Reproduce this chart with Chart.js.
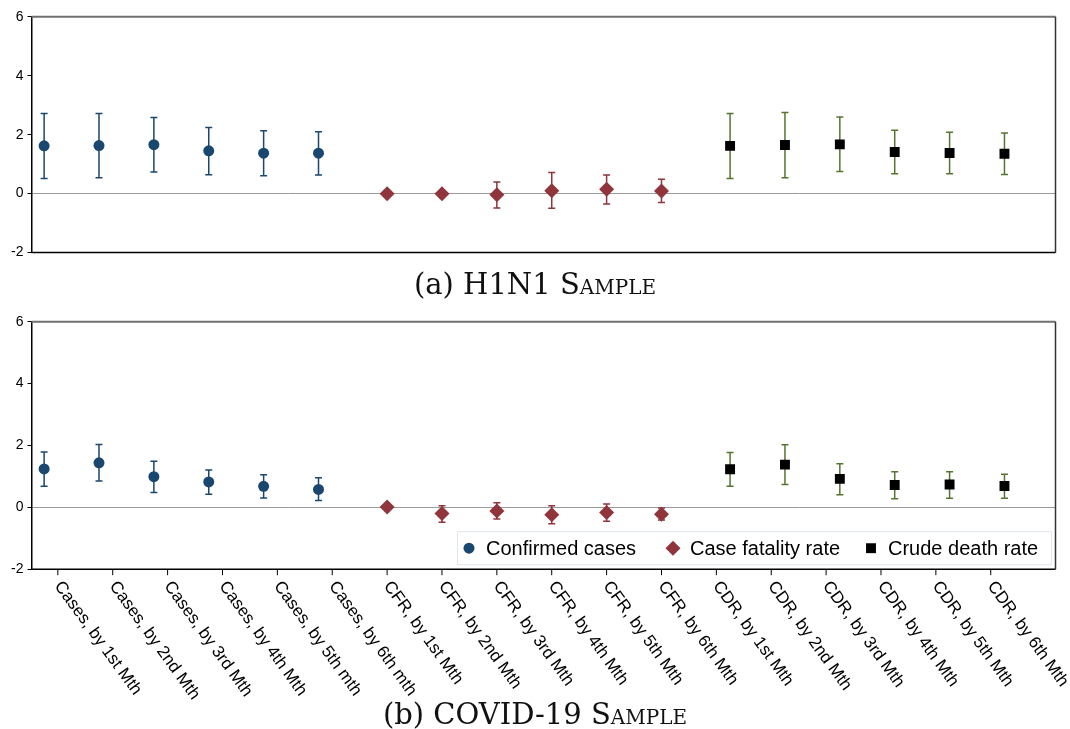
<!DOCTYPE html>
<html>
<head>
<meta charset="utf-8">
<script src="https://cdn.jsdelivr.net/npm/chart.js@4.4.0/dist/chart.umd.min.js"></script>
<style>
body { margin: 0; background: #fff; }
#wrap { position: relative; width: 1070px; height: 729px; background: #fff; overflow: hidden; }
#c1 { position: absolute; left: 0; top: 0; }
#c2 { position: absolute; left: 0; top: 300px; }
.cap { position: absolute; left: 0; width: 1070px; text-align: center; font-family: "DejaVu Serif", serif; font-size: 29px; line-height: 1; color: #111; }
.sc { font-variant: small-caps; }
</style>
</head>
<body>
<div id="wrap">
  <canvas id="c1" width="1070" height="265"></canvas>
  <canvas id="c2" width="1070" height="400"></canvas>
  <div class="cap" style="top:270px">(a) H1N1 <span class="sc">Sample</span></div>
  <div class="cap" style="top:700px">(b) COVID-19 <span class="sc">Sample</span></div>
</div>
<script>
// categories along the x axis (shared by both panels)
var categories = [
  'Cases, by 1st Mth', 'Cases, by 2nd Mth', 'Cases, by 3rd Mth', 'Cases, by 4th Mth', 'Cases, by 5th mth', 'Cases, by 6th mth',
  'CFR, by 1st Mth', 'CFR, by 2nd Mth', 'CFR, by 3rd Mth', 'CFR, by 4th Mth', 'CFR, by 5th Mth', 'CFR, by 6th Mth',
  'CDR, by 1st Mth', 'CDR, by 2nd Mth', 'CDR, by 3rd Mth', 'CDR, by 4th Mth', 'CDR, by 5th Mth', 'CDR, by 6th Mth'
];
var seriesNames = ['Confirmed cases', 'Case fatality rate', 'Crude death rate'];
var yTicks = [-2, 0, 2, 4, 6];

// (a) H1N1 sample: estimates with 95% CI
var h1Cases   = [1.62, 1.63, 1.66, 1.45, 1.37, 1.37];
var h1CasesLo = [0.51, 0.54, 0.73, 0.64, 0.61, 0.63];
var h1CasesHi = [2.72, 2.72, 2.58, 2.24, 2.13, 2.10];
var h1Cfr     = [0.00, 0.00, -0.04, 0.10, 0.15, 0.09];
var h1CfrLo   = [0.00, 0.00, -0.49, -0.50, -0.35, -0.30];
var h1CfrHi   = [0.00, 0.00, 0.39, 0.72, 0.63, 0.49];
var h1Cdr     = [1.62, 1.65, 1.67, 1.41, 1.38, 1.35];
var h1CdrLo   = [0.51, 0.54, 0.75, 0.67, 0.67, 0.65];
var h1CdrHi   = [2.72, 2.75, 2.60, 2.15, 2.08, 2.06];

// (b) COVID-19 sample
var cvCases   = [1.24, 1.44, 0.99, 0.82, 0.68, 0.58];
var cvCasesLo = [0.68, 0.85, 0.48, 0.42, 0.30, 0.22];
var cvCasesHi = [1.79, 2.03, 1.49, 1.21, 1.05, 0.96];
var cvCfr     = [0.01, -0.20, -0.12, -0.24, -0.17, -0.22];
var cvCfrLo   = [0.01, -0.48, -0.38, -0.53, -0.45, -0.41];
var cvCfrHi   = [0.01, 0.05, 0.15, 0.05, 0.11, -0.02];
var cvCdr     = [1.23, 1.38, 0.92, 0.72, 0.74, 0.69];
var cvCdrLo   = [0.68, 0.74, 0.41, 0.28, 0.29, 0.29];
var cvCdrHi   = [1.77, 2.02, 1.41, 1.15, 1.15, 1.07];

var groupGap = 0.25; // extra room between the three groups
var styles = [
  { pointStyle: 'circle',  pointRadius: 5.5, color: '#1a476f', barColor: '#1a476f' },
  { pointStyle: 'rectRot', pointRadius: 7.5, color: '#90353b', barColor: '#90353b' },
  { pointStyle: 'rect',    pointRadius: 7,   color: '#000000', barColor: '#55752f' }
];
var fontSans = '"Liberation Sans", Arial, sans-serif';

function tickPos(i) { return i + 1 + groupGap; }

function makeSet(g, vals, lo, hi) {
  var s = styles[g];
  return {
    label: seriesNames[g],
    data: vals.map(function (v, i) { return { x: g * 6 + i + 1 + g * groupGap, y: v }; }),
    lo: lo, hi: hi,
    barColor: s.barColor,
    pointStyle: s.pointStyle,
    pointRadius: s.pointRadius,
    pointHoverRadius: s.pointRadius,
    backgroundColor: s.color,
    borderWidth: 0
  };
}

var panelPlugin = {
  id: 'panel',
  beforeDatasetsDraw: function (chart) {
    var ctx = chart.ctx, x = chart.scales.x, y = chart.scales.y;
    chart.data.datasets.forEach(function (ds) {
      ctx.save();
      ctx.strokeStyle = ds.barColor;
      ctx.lineWidth = 1.5;
      ds.data.forEach(function (p, i) {
        var px = x.getPixelForValue(p.x);
        var y1 = y.getPixelForValue(ds.lo[i]), y2 = y.getPixelForValue(ds.hi[i]);
        if (Math.abs(y2 - y1) < 1) return;
        ctx.beginPath();
        ctx.moveTo(px, y1); ctx.lineTo(px, y2);
        ctx.moveTo(px - 3.5, y1); ctx.lineTo(px + 3.5, y1);
        ctx.moveTo(px - 3.5, y2); ctx.lineTo(px + 3.5, y2);
        ctx.stroke();
      });
      ctx.restore();
    });
  },
  afterDraw: function (chart, args, opts) {
    var ctx = chart.ctx, a = chart.chartArea, x = chart.scales.x;
    ctx.save();
    // frame
    ctx.lineWidth = 2; ctx.strokeStyle = '#707070';
    ctx.beginPath(); ctx.moveTo(a.left, a.top); ctx.lineTo(a.right, a.top); ctx.stroke();
    ctx.lineWidth = 1.5; ctx.strokeStyle = '#333';
    ctx.beginPath(); ctx.moveTo(a.right, a.top); ctx.lineTo(a.right, a.bottom); ctx.stroke();
    ctx.strokeStyle = '#000';
    ctx.beginPath(); ctx.moveTo(a.left, a.bottom); ctx.lineTo(a.right, a.bottom); ctx.stroke();

    if (opts.xLabels) {
      ctx.font = '17px ' + fontSans;
      ctx.fillStyle = '#000';
      ctx.lineWidth = 1;
      categories.forEach(function (c, i) {
        var tx = x.getPixelForValue(tickPos(i));
        ctx.beginPath(); ctx.moveTo(tx, a.bottom); ctx.lineTo(tx, a.bottom + 6); ctx.stroke();
        ctx.save();
        ctx.translate(tx, a.bottom + 14);
        ctx.rotate(54 * Math.PI / 180);
        ctx.textAlign = 'left';
        ctx.textBaseline = 'middle';
        ctx.fillText(c, 0, 0);
        ctx.restore();
      });
    }

    if (opts.legend) {
      var lx = 457, ly = a.bottom - 38, lw = 594, lh = 33;
      ctx.fillStyle = '#fff';
      ctx.fillRect(lx, ly, lw, lh);
      ctx.strokeStyle = '#dfe7ec'; ctx.lineWidth = 1;
      ctx.strokeRect(lx + 0.5, ly + 0.5, lw, lh);
      var cols = [469, 673, 871];
      var cy = ly + lh / 2 + 0.5;
      ctx.font = '20px ' + fontSans;
      ctx.textBaseline = 'middle';
      ctx.textAlign = 'left';
      chart.data.datasets.forEach(function (ds, i) {
        ctx.fillStyle = ds.backgroundColor;
        Chart.helpers.drawPoint(ctx, { pointStyle: ds.pointStyle, radius: ds.pointRadius, rotation: 0, borderWidth: 0 }, cols[i], cy);
        ctx.fillStyle = '#000';
        ctx.fillText(ds.label, cols[i] + 17, cy + 1);
      });
    }
    ctx.restore();
  }
};

function makeChart(id, sets, pad, showLabels) {
  return new Chart(document.getElementById(id), {
    type: 'scatter',
    data: { datasets: sets },
    plugins: [panelPlugin],
    options: {
      responsive: false,
      animation: false,
      layout: { padding: pad },
      plugins: {
        legend: { display: false },
        tooltip: { enabled: false },
        panel: { xLabels: showLabels, legend: showLabels }
      },
      scales: {
        x: { type: 'linear', display: false, min: 0.77, max: 19.43 },
        y: {
          min: -2, max: 6,
          afterBuildTicks: function (s) { s.ticks = yTicks.map(function (v) { return { value: v }; }); },
          afterFit: function (s) { s.width = 31.5; },
          ticks: { font: { family: fontSans, size: 14 }, color: '#000', padding: 4 },
          grid: {
            color: function (c) { return c.tick && c.tick.value === 0 ? '#9a9a9a' : 'rgba(0,0,0,0)'; },
            tickColor: '#000', tickLength: 4, lineWidth: 1
          },
          border: { display: true, color: '#000', width: 1.5 }
        }
      }
    }
  });
}

makeChart('c1', [
  makeSet(0, h1Cases, h1CasesLo, h1CasesHi),
  makeSet(1, h1Cfr, h1CfrLo, h1CfrHi),
  makeSet(2, h1Cdr, h1CdrLo, h1CdrHi)
], { top: 16.7, bottom: 10.5, left: 0, right: 14.5 }, false);

makeChart('c2', [
  makeSet(0, cvCases, cvCasesLo, cvCasesHi),
  makeSet(1, cvCfr, cvCfrLo, cvCfrHi),
  makeSet(2, cvCdr, cvCdrLo, cvCdrHi)
], { top: 21.7, bottom: 130.8, left: 0, right: 14.5 }, true);
</script>
</body>
</html>
